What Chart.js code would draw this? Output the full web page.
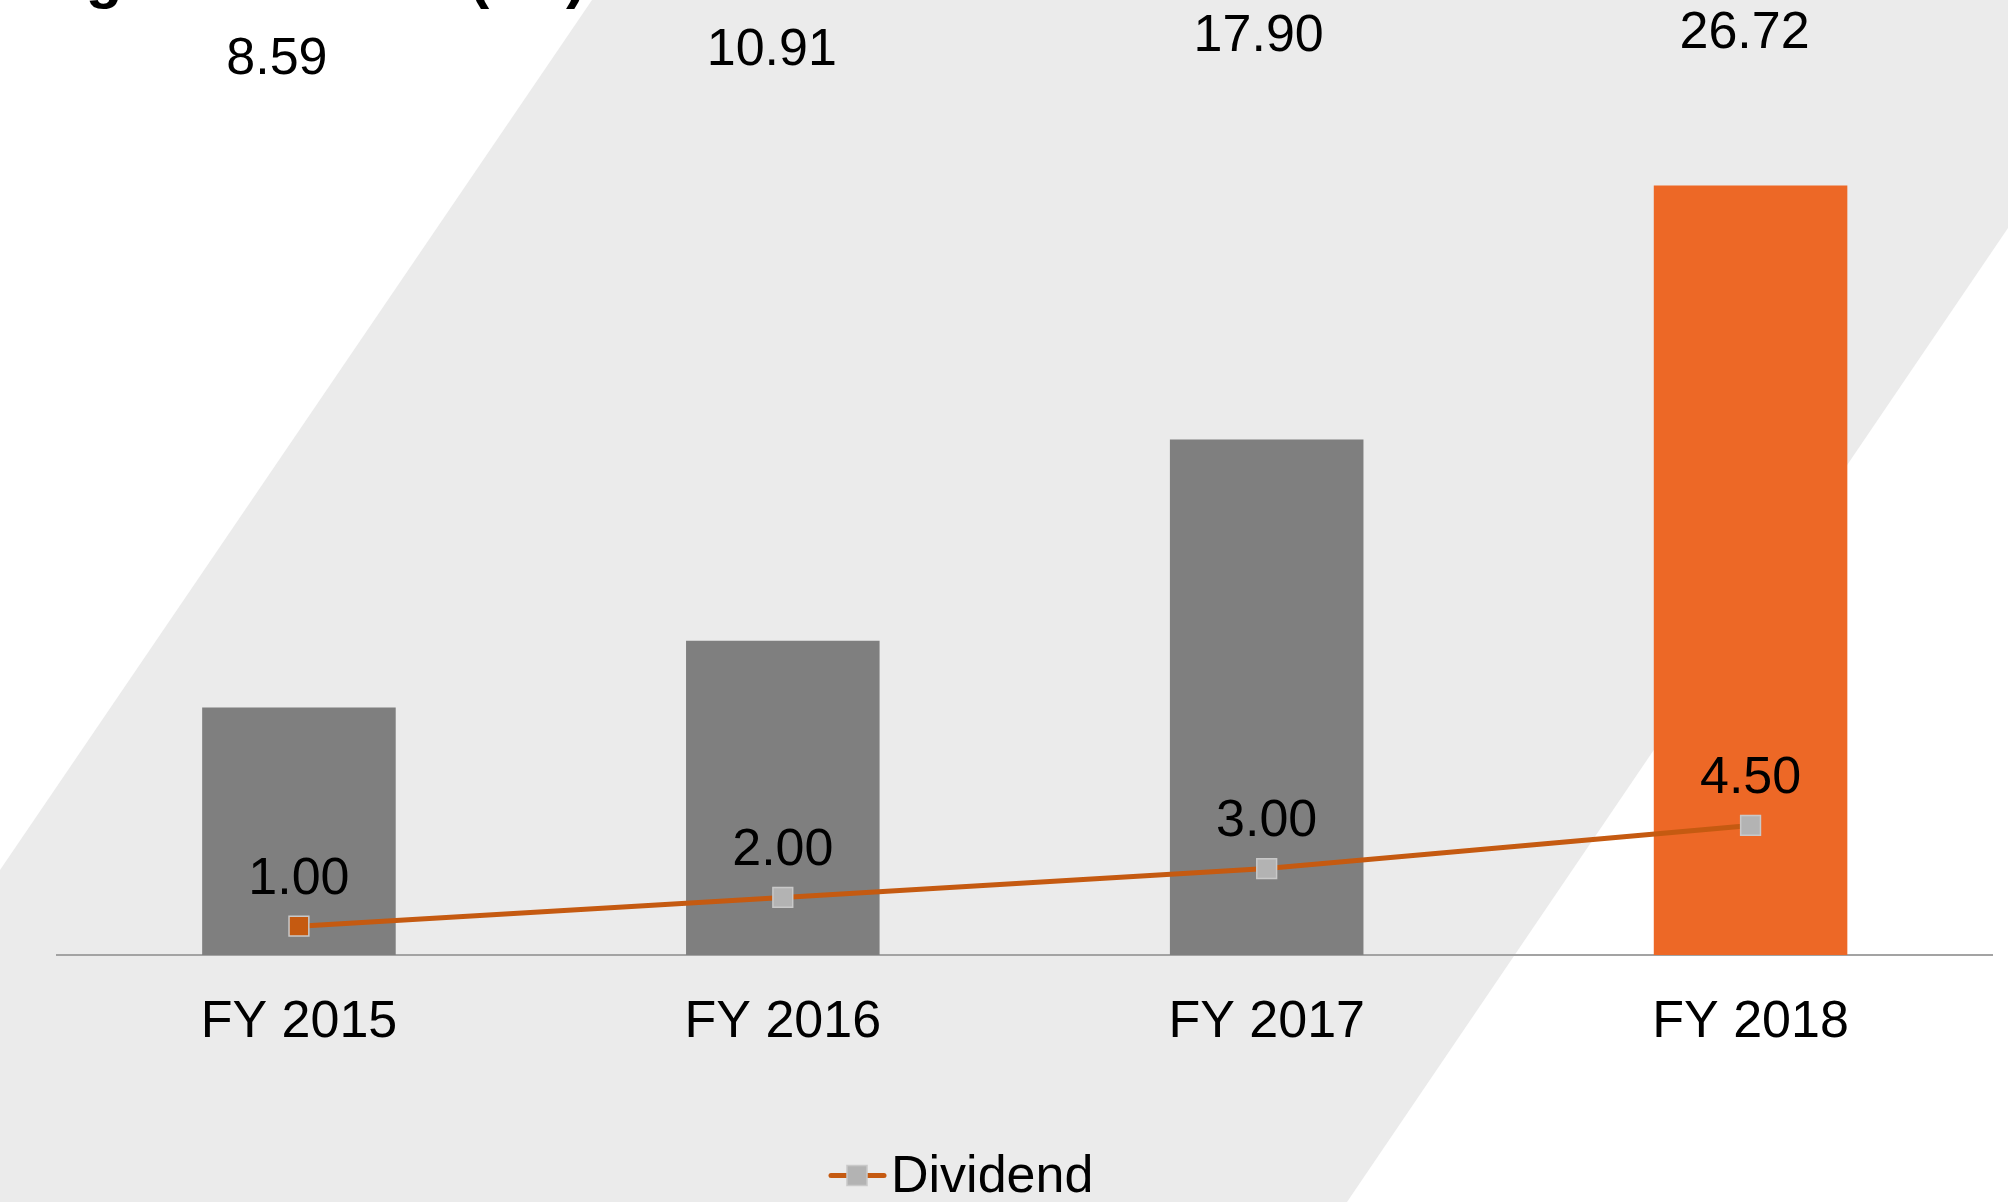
<!DOCTYPE html>
<html>
<head>
<meta charset="utf-8">
<title>EPS & Dividend</title>
<script src="https://cdn.jsdelivr.net/npm/chart.js@4.4.1/dist/chart.umd.min.js"></script>
<style>
    html, body { margin: 0; padding: 0; background: #fff; overflow: hidden; }
    #wrap { width: 2008px; height: 1202px; position: relative; }
    #eps_chart { display: block; }
</style>
</head>
<body>
<div id="wrap"><canvas id="eps_chart"></canvas></div>
<script>
// eps + dividend chart
const categories = ['FY 2015', 'FY 2016', 'FY 2017', 'FY 2018'];
const epsValues = [8.59, 10.91, 17.90, 26.72];
const dividendValues = [1.00, 2.00, 3.00, 4.50];

const FONT = '"Liberation Sans", Arial, sans-serif';
const barColors = ['#7f7f7f', '#7f7f7f', '#7f7f7f', '#ed6826'];
const pointColors = ['#c55a11', '#b3b3b3', '#b3b3b3', '#b3b3b3'];

// diagonal grey band behind everything + the heading running off the top edge
const backdrop = {
    id: 'backdrop',
    beforeDraw(chart) {
        let ctx = chart.ctx;
        let w = chart.width, h = chart.height;
        ctx.save();
        ctx.fillStyle = '#ffffff';
        ctx.fillRect(0, 0, w, h);
        ctx.fillStyle = '#ebebeb';
        ctx.beginPath();
        ctx.moveTo(592, 0);
        ctx.lineTo(w, 0);
        ctx.lineTo(w, 228);
        ctx.lineTo(1347, h);
        ctx.lineTo(0, h);
        ctx.lineTo(0, 870);
        ctx.closePath();
        ctx.fill();

        ctx.fillStyle = '#000';
        ctx.font = 'bold 60px ' + FONT;
        ctx.textAlign = 'right';
        ctx.textBaseline = 'alphabetic';
        ctx.fillText('Earnings Per Share (Rs)', 586, -3);
        ctx.restore();
    }
};

// value labels: eps values sit in a row above the plot, dividends above their points
const valueLabels = {
    id: 'valueLabels',
    afterDatasetsDraw(chart) {
        let ctx = chart.ctx;
        let top = chart.chartArea.top;
        let barMeta = chart.getDatasetMeta(0);
        let lineMeta = chart.getDatasetMeta(1);
        let lift = [31, 40, 54, 57];
        let shift = [-22, -11, -8, -6];
        ctx.save();
        ctx.fillStyle = '#000';
        ctx.font = '52px ' + FONT;
        ctx.textAlign = 'center';
        ctx.textBaseline = 'middle';
        barMeta.data.forEach((bar, i) => {
            ctx.fillText(epsValues[i].toFixed(2), bar.x + shift[i], top - lift[i]);
        });
        lineMeta.data.forEach((pt, i) => {
            ctx.fillText(dividendValues[i].toFixed(2), pt.x, pt.y - 46.5);
        });
        ctx.restore();
    }
};

// bottom legend: line with square marker, then the series name
const legendKey = {
    id: 'legendKey',
    afterDraw(chart) {
        let ctx = chart.ctx;
        let y = 1175.5;
        ctx.save();
        ctx.strokeStyle = '#c55a11';
        ctx.lineWidth = 5;
        ctx.lineCap = 'round';
        ctx.beginPath();
        ctx.moveTo(831, y);
        ctx.lineTo(884, y);
        ctx.stroke();
        ctx.fillStyle = '#b3b3b3';
        ctx.strokeStyle = '#c9c9c9';
        ctx.lineWidth = 1.5;
        ctx.fillRect(847, y - 10, 20, 20);
        ctx.strokeRect(847, y - 10, 20, 20);
        ctx.fillStyle = '#000';
        ctx.font = '52px ' + FONT;
        ctx.textAlign = 'left';
        ctx.textBaseline = 'alphabetic';
        ctx.fillText('Dividend', 891, 1192);
        ctx.restore();
    }
};

let ctx = document.getElementById('eps_chart');

let data = {
    labels: categories,
    datasets: [{
        type: 'bar',
        label: 'EPS',
        data: epsValues,
        backgroundColor: barColors,
        categoryPercentage: 0.4,
        barPercentage: 1.0,
        order: 1
    }, {
        type: 'line',
        label: 'Dividend',
        data: dividendValues,
        borderColor: '#c55a11',
        borderWidth: 5,
        tension: 0,
        pointStyle: 'rect',
        pointRadius: 14,
        pointBackgroundColor: pointColors,
        pointBorderColor: '#c9c9c9',
        pointBorderWidth: 1.5,
        order: 0
    }]
};

let options = {
    maintainAspectRatio: false,
    responsive: true,
    animation: false,
    layout: {
        padding: { left: 57, right: 4, top: 91, bottom: 112.6 }
    },
    plugins: {
        legend: { display: false },
        tooltip: { enabled: false },
        title: { display: false }
    },
    scales: {
        x: {
            offset: true,
            grid: { display: false, drawTicks: false },
            border: { display: true, color: '#a3a3a3', width: 2 },
            ticks: {
                color: '#000',
                padding: 36,
                font: { family: FONT, size: 52 }
            }
        },
        y: {
            display: false,
            min: 0,
            max: 30
        }
    }
};

new Chart(ctx, {
    type: 'bar',
    data: data,
    options: options,
    plugins: [backdrop, valueLabels, legendKey]
});
</script>
</body>
</html>
